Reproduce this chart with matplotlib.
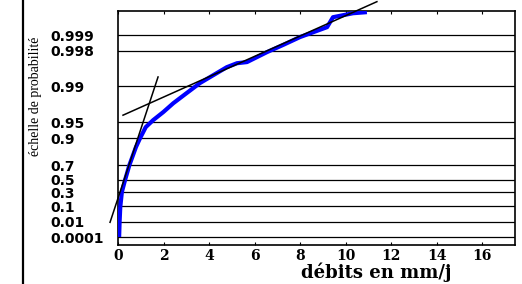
import numpy as np
import matplotlib.pyplot as plt
from matplotlib.lines import Line2D

# probabilites au non-depassement (echelle de Gumbel)
probs = [0.0001, 0.01, 0.1, 0.3, 0.5, 0.7, 0.9, 0.95, 0.99, 0.998, 0.999]
prob_labels = ["0.0001", "0.01", "0.1", "0.3", "0.5", "0.7", "0.9", "0.95", "0.99", "0.998", "0.999"]

# debits classes (mm/j) et probabilite empirique
debits = [0.05, 0.07, 0.10, 0.17, 0.31, 0.50, 0.79, 0.97, 1.22, 1.55, 1.99, 2.43, 3.02,
          3.60, 4.19, 4.78, 5.23, 5.67, 6.55, 7.25, 8.0, 9.19, 9.45, 10.33, 10.94]
p_emp = [0.0001, 0.0094, 0.093, 0.300, 0.497, 0.700, 0.8545, 0.900, 0.9381, 0.95463,
         0.96812, 0.97852, 0.98640, 0.99130, 0.99392, 0.99575, 0.99645, 0.99663,
         0.99785, 0.99844, 0.99891, 0.999304, 0.999556, 0.999629, 0.999647]

# droites d'ajustement (extremites)
d1_x = [-0.35, 1.76]
d1_p = [0.0088, 0.9934]
d2_x = [0.22, 11.38]
d2_p = [0.9634, 0.99978]


def gumbel(p):
    p = np.asarray(p, dtype=float)
    return -np.log(-np.log(p))


fig = plt.figure(figsize=(5.22, 2.84), dpi=100)
ax = fig.add_axes([118/522, 1 - 245/284, (515-118)/522, (245-11)/284])

ax.plot(debits, gumbel(p_emp), color=(0, 0, 1), lw=3.0, solid_capstyle='butt',
        solid_joinstyle='round', zorder=3)
ax.plot(d1_x, gumbel(d1_p), color='k', lw=1.1, clip_on=False, zorder=4)
ax.plot(d2_x, gumbel(d2_p), color='k', lw=1.1, clip_on=False, zorder=4)

for u in gumbel(probs):
    ax.axhline(u, color='k', lw=0.9, zorder=1)

ax.set_xlim(0, 17.45)
ax.set_ylim(-2.58, 8.0)
ax.set_xticks(np.arange(0, 17, 2))
ax.set_xticklabels([str(v) for v in range(0, 17, 2)], fontfamily='DejaVu Serif',
                   fontweight='bold', fontsize=10)
ax.set_yticks(gumbel(probs))
ax.set_yticklabels(prob_labels, fontfamily='DejaVu Sans', fontweight='bold', fontsize=10)
for t in ax.get_yticklabels():
    t.set_horizontalalignment('left')
ax.tick_params(axis='y', length=0, pad=49)
ax.tick_params(axis='x', direction='in', length=2.5, top=True, pad=3)
for s in ax.spines.values():
    s.set_linewidth(1.2)

fig.text(376/522, 1 - 272/284, "débits en mm/j", ha='center', va='center',
         fontfamily='DejaVu Serif', fontweight='bold', fontsize=13)
fig.text(36/522, 1 - 96/284, "échelle de probabilité", rotation=90, ha='center',
         va='center', fontfamily='Liberation Serif', fontsize=10)

fig.add_artist(Line2D([23/522, 23/522], [0, 1], transform=fig.transFigure, color='k', lw=1.6))

plt.savefig('out.png', dpi=100)
